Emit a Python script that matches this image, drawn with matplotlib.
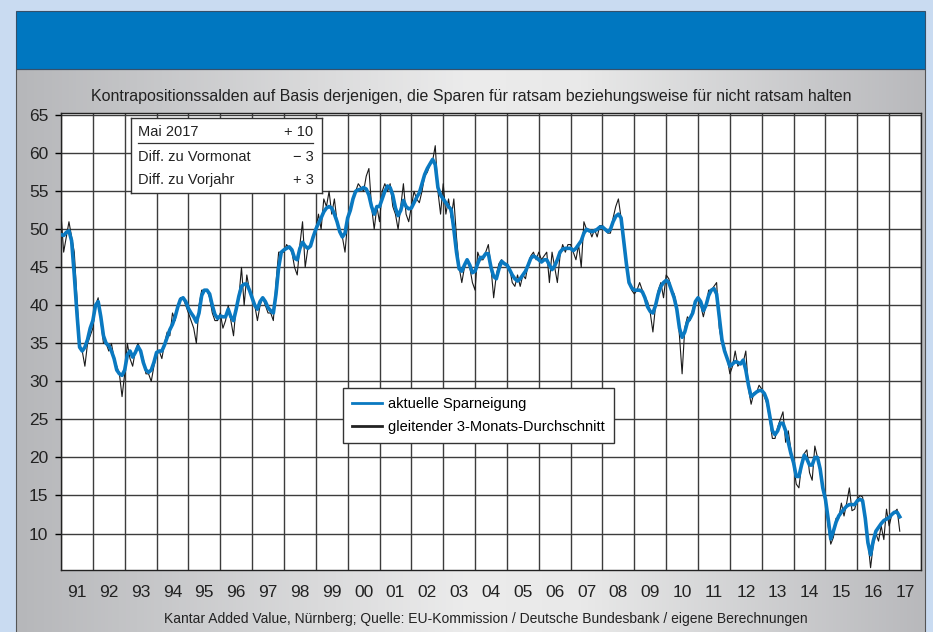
import numpy as np
import matplotlib.pyplot as plt
from matplotlib.colors import LinearSegmentedColormap
from matplotlib.lines import Line2D
from matplotlib.patches import Rectangle

plt.rcParams['font.family'] = ['Liberation Sans', 'DejaVu Sans']

# monthly values, Jan 1991 .. May 2017 (one row per year)
start_year = 1991
sparen_monat = [
    52, 47, 49, 51, 49, 47, 41, 35, 34, 32, 35, 36,
    37, 40, 41, 38, 35, 35, 34, 35, 33, 32, 31, 28,
    31, 35, 33, 32, 34, 35, 34, 33, 31, 31, 30, 32,
    33.5, 34, 33, 35, 36.5, 36, 39, 38, 40, 41, 41, 40,
    39, 38, 37, 35, 40, 42, 42, 42, 41, 39, 38, 38,
    39, 37, 38, 40, 38, 36, 40, 41, 45, 40, 44, 42,
    41, 40, 38, 40, 41, 40, 39, 39, 38, 43, 47, 47,
    47, 48, 47.5, 47, 45, 44, 48, 51, 45, 47.5, 48, 49,
    50, 52, 50, 54, 53, 55, 52, 54, 51, 50, 49, 47,
    51, 53, 54, 55, 56, 55.5, 55, 57, 58, 53, 50, 53,
    51, 55, 56, 55, 56, 53, 52, 50, 53, 56, 52, 51,
    53, 55, 54, 53.5, 55, 57, 57.5, 58.5, 59, 61, 55, 52,
    56, 52, 54, 51.5, 54, 49, 45, 43, 45, 46, 45, 43,
    42, 47, 46, 46, 47, 48, 45, 41, 44, 45.5, 46, 45.5,
    45.5, 45, 43, 42.5, 44, 42.5, 44, 43.5, 45.5, 46.5, 47, 46,
    47, 46, 46.5, 47, 43, 47, 45, 43, 46.5, 48, 47, 48,
    48, 47, 46, 48, 45, 51, 50, 50, 49, 50, 49, 50.5,
    50.5, 50, 49.5, 49.5, 51.5, 53, 54, 51.5, 48.5, 45.5, 43, 42,
    41.5, 42, 43, 42, 41, 40.5, 39, 36.5, 40, 42, 43, 41,
    44, 43.5, 42, 41.5, 40, 36, 31, 37, 38.5, 38, 39.5, 40.5,
    41, 40, 38.5, 40, 42, 42, 42.5, 43, 37, 35, 34.5, 33,
    31, 32, 34, 32, 32.5, 32.5, 34, 29, 27, 28.5, 28.5, 29.5,
    29, 28, 27, 25, 22.5, 22.5, 24, 25, 26, 22, 23.5, 21,
    19, 16.5, 16, 19, 20.5, 21, 18, 17, 21.5, 20, 18, 16,
    14, 11, 8.6, 9.5, 12, 12, 14, 12.3, 14, 16, 13, 13.2,
    14.5, 15, 14.8, 11.8, 9, 5.5, 8.5, 10, 9, 11, 9.2, 13.2,
    11, 12.5, 12.8, 13.2, 10.3,
]
sparen_glatt = [
    49.3, 49.2, 49.6, 49.8, 48.5, 44, 39, 34.5, 34, 34.5, 35.5, 37,
    38, 40, 40.5, 38.5, 36, 35, 34.7, 34, 33, 31.5, 31, 30.8,
    31.5, 33.5, 34, 33.2, 33.8, 34.6, 34, 32.5, 31.5, 31.2, 31.5, 32.5,
    33.8, 34, 34, 34.8, 35.8, 36.8, 37.5, 38.5, 39.8, 40.8, 41, 40.5,
    39.6, 39, 38.5, 37.8, 39, 41.3, 42, 42, 41.5, 40, 38.8, 38.3,
    38.6, 38.5, 38.5, 39.5, 38.5, 38, 39.5, 41.2, 42.5, 42.8, 42.8, 42,
    41, 40, 39.5, 40.5, 41, 40.5, 39.7, 39.3, 39, 41.5, 45, 47,
    47.3, 47.5, 47.7, 47.3, 46.2, 46, 47.5, 48.3, 47.8, 47.5, 47.8, 49,
    50, 50.8, 51.5, 52.3, 52.8, 53, 52.8, 52, 51, 49.7, 49, 49.5,
    51.5, 52.5, 54, 55, 55.2, 55.3, 55.5, 55.3, 54.5, 53, 52, 53,
    53, 54, 55, 55.7, 55.5, 54.5, 52.8, 51.8, 52.5, 53.8, 53, 52.7,
    52.8, 53.5, 54.2, 54.8, 56, 57.2, 58, 58.6, 59.2, 58.5, 55.5, 54.5,
    54, 53.5, 53, 52.6, 50, 47, 44.8, 44.5, 45.3, 46, 45.3, 44.3,
    44.5, 45.5, 46.3, 46.3, 46.8, 46.8, 45, 43.8, 43.5, 44.8, 45.8, 45.5,
    45.3, 44.7, 44, 43.5, 43.2, 43.5, 44, 44.5, 45.3, 46.2, 46.5, 46.3,
    46, 45.7, 46, 46, 45.3, 44.7, 45.2, 46, 47, 47.4, 47.5, 47.5,
    47.5, 47.2, 47.5, 48, 48.5, 49.5, 50, 49.8, 49.7, 49.8, 50, 50.3,
    50.3, 50, 49.7, 50, 51, 51.7, 52, 51.5, 48.5, 45.5, 43, 42.3,
    42, 42, 42, 41.8, 41, 39.8, 39.2, 39, 40, 41.5, 42.5, 43,
    43.3, 43, 42, 41, 39.5, 37, 35.8, 36.5, 37.8, 38.3, 39, 40.5,
    41, 40.5, 39.3, 40, 41.3, 42, 42.2, 41.5, 38.5, 35.5, 34, 33,
    32, 32.3, 32.6, 32.5, 32.3, 32.8, 31.5, 29.5, 28, 28.3, 28.6, 28.8,
    28.8, 28.4, 27.5, 25.5, 23.5, 23, 23.5, 24.5, 24.5, 23.5, 22, 20.5,
    19.3, 17.5, 17.5, 19, 20.3, 19.8, 19, 19, 20, 20, 18.5, 16,
    14.5, 12, 9.3, 10.3, 11.5, 12.3, 12.8, 13.2, 13.6, 13.8, 13.8, 13.8,
    14.3, 14.5, 14.3, 12, 8.8, 7.2, 9, 10.3, 10.8, 11.3, 11.7, 11.9,
    12.1, 12.5, 12.8, 12.8, 12.2,
]
year_labels = ['91', '92', '93', '94', '95', '96', '97', '98', '99', '00',
               '01', '02', '03', '04', '05', '06', '07', '08', '09', '10',
               '11', '12', '13', '14', '15', '16', '17']
info_rows = [('Mai 2017', '+ 10'), ('Diff. zu Vormonat', '\u2212 3'), ('Diff. zu Vorjahr', '+ 3')]

t = start_year + np.arange(len(sparen_monat)) / 12.0

W, H = 933, 632
fig = plt.figure(figsize=(W / 100, H / 100), dpi=100)
fig.patch.set_facecolor('#c9dbf1')

# background: gray gradient panel + blue header (pixel coords)
bg = fig.add_axes([0, 0, 1, 1], zorder=0)
bg.axis('off')
grey = LinearSegmentedColormap.from_list('g', [(0, '#b6b7ba'), (0.5, '#ececec'),
                                               (0.62, '#e9e9e9'), (1, '#b8b9bc')])
bg.imshow(np.linspace(0, 1, 256)[None, :], cmap=grey, aspect='auto',
          extent=(16, 925, H + 2, 69), zorder=1)
bg.add_patch(Rectangle((16, 69), 909, H - 68, fill=False, ec='#555555', lw=0.8, zorder=2))
bg.add_patch(Rectangle((16, 11), 909, 58, fc='#0077c0', ec='#35506a', lw=0.8, zorder=2))
bg.set_xlim(0, W)
bg.set_ylim(H, 0)

fig.text(471 / W, 1 - 96 / H,
         'Kontrapositionssalden auf Basis derjenigen, die Sparen f\u00fcr ratsam '
         'beziehungsweise f\u00fcr nicht ratsam halten',
         ha='center', va='center', fontsize=11.5, color='#222222')
fig.text(486 / W, 1 - 619 / H,
         'Kantar Added Value, N\u00fcrnberg; Quelle: EU-Kommission / Deutsche Bundesbank / '
         'eigene Berechnungen', ha='center', va='center', fontsize=10, color='#222222')

# main plot
ax = fig.add_axes([61 / W, 1 - 570 / H, 860 / W, 457 / H], zorder=2)
ax.set_facecolor('white')
ax.plot(t, sparen_monat, color='#1a1a1a', lw=0.8, zorder=3)
ax.plot(t, sparen_glatt, color='#0a79c1', lw=2.6, solid_joinstyle='round', zorder=4)

ax.set_xlim(1991, 2018)
ax.set_ylim(5.2, 65.3)
ax.set_yticks(np.arange(10, 66, 5))
ax.set_xticks(np.arange(1991, 2019))
ax.set_xticklabels([])
ax.set_xticks(np.arange(1991, 2018) + 0.5, minor=True)
ax.set_xticklabels(year_labels, minor=True)
ax.tick_params(axis='x', which='both', length=0, pad=11, labelsize=12.5, labelcolor='#222222')
ax.tick_params(axis='y', length=4, width=1, pad=5, labelsize=12.5, labelcolor='#222222')
ax.grid(True, which='major', color='#3c3c3c', lw=1.0)
for s in ax.spines.values():
    s.set_color('#222222')
    s.set_linewidth(1.0)

leg = ax.legend(handles=[Line2D([], [], color='#0a79c1', lw=2),
                         Line2D([], [], color='#222222', lw=2)],
                labels=['aktuelle Sparneigung', 'gleitender 3-Monats-Durchschnitt'],
                loc='upper left', bbox_to_anchor=(343 / W, 1 - 388 / H),
                bbox_transform=fig.transFigure, fontsize=10.5, frameon=True,
                fancybox=False, framealpha=1, edgecolor='#333333',
                handlelength=2.05, handletextpad=0.4, labelspacing=0.6,
                borderpad=0.62, borderaxespad=0)
leg.get_frame().set_linewidth(1.0)
leg.set_zorder(6)

# info box
box = fig.add_axes([131 / W, 1 - 193 / H, 191 / W, 75 / H], zorder=5)
box.set_xticks([])
box.set_yticks([])
box.set_facecolor('white')
for s in box.spines.values():
    s.set_color('#333333')
    s.set_linewidth(1.0)
for (lab, val), yy in zip(info_rows, [0.82, 0.48, 0.17]):
    box.text(0.037, yy, lab, ha='left', va='center', fontsize=10.5, color='#222222')
    box.text(0.955, yy, val, ha='right', va='center', fontsize=10.5, color='#222222')
box.plot([0.037, 0.955], [0.665, 0.665], color='#333333', lw=0.9)
box.set_xlim(0, 1)
box.set_ylim(0, 1)

fig.savefig('out.png', dpi=100, facecolor=fig.get_facecolor())
